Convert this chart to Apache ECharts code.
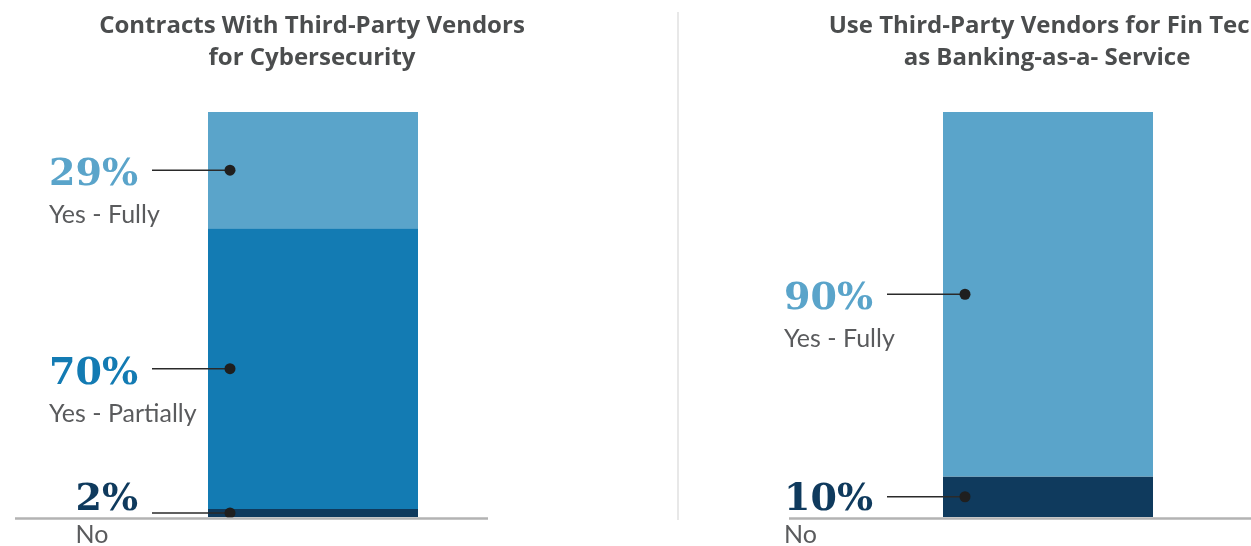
<!DOCTYPE html>
<html>
<head>
<meta charset="utf-8">
<script src="https://cdn.jsdelivr.net/npm/echarts@6/dist/echarts.min.js"></script>
<style>
  html, body { margin: 0; padding: 0; background: #ffffff; }
  #chart { width: 1251px; height: 546px; }
</style>
</head>
<body>
<div id="chart"></div>
<script>
// Survey answers, stacked bottom to top
const cyberTitle = 'Contracts With Third-Party Vendors\nfor Cybersecurity';
const cyberLabels = ['No', 'Yes - Partially', 'Yes - Fully'];
const cyberValues = [2, 70, 29];

const finTechTitle = 'Use Third-Party Vendors for Fin Tech\nas Banking-as-a- Service';
const finTechLabels = ['No', 'Yes - Fully'];
const finTechValues = [10, 90];

// Styling
const answerColors = {
  'No': '#0f3a5d',
  'Yes - Partially': '#137bb3',
  'Yes - Fully': '#5aa4ca'
};
const PCT_FONT = 'bold 38px "DejaVu Serif"';
const SUB_FONT = '400 25px Lato';
const TITLE_FONT = 'bold 24px "Open Sans"';
const TITLE_COLOR = '#4b4d4e';
const SUB_COLOR = '#5a5b5d';

// Panel layout: bar area and baseline extent
const panels = [
  { title: cyberTitle, labels: cyberLabels, values: cyberValues, left: 208, titleX: 312, ruleFrom: 15, ruleTo: 488 },
  { title: finTechTitle, labels: finTechLabels, values: finTechValues, left: 943, titleX: 1047, ruleFrom: 789, ruleTo: 1251 }
];
const BAR_W = 210, GRID_TOP = 112, GRID_BOTTOM = 29;

const measureCtx = document.createElement('canvas').getContext('2d');
function textWidth(str, font) {
  measureCtx.font = font;
  return measureCtx.measureText(str).width;
}

const grids = [], xAxes = [], yAxes = [], series = [];

panels.forEach((p, pi) => {
  const total = p.values.reduce((a, b) => a + b, 0);
  grids.push({ left: p.left, width: BAR_W, top: GRID_TOP, bottom: GRID_BOTTOM });
  xAxes.push({ type: 'category', gridIndex: pi, data: [''], show: false, boundaryGap: true });
  yAxes.push({ type: 'value', gridIndex: pi, min: 0, max: total, show: false });

  p.values.forEach((v, si) => {
    series.push({
      type: 'bar',
      name: p.labels[si],
      xAxisIndex: pi,
      yAxisIndex: pi,
      stack: 'panel' + pi,
      barWidth: '100%',
      data: [v],
      itemStyle: { color: answerColors[p.labels[si]] },
      silent: true
    });
  });

  // annotation items: [x, stack start, value, segment index]
  let acc = 0;
  const notes = p.values.map((v, si) => {
    const item = [0, acc, v, si];
    acc += v;
    return item;
  });

  series.push({
    type: 'custom',
    xAxisIndex: pi,
    yAxisIndex: pi,
    clip: false,
    z: 5,
    silent: true,
    encode: { x: 0, y: 1 },
    data: notes,
    renderItem: function (params, api) {
      const start = api.value(1);
      const val = api.value(2);
      const si = api.value(3);
      const cs = params.coordSys;
      const baseY = api.coord([0, 0])[1];
      const yBot = api.coord([0, start])[1];
      const yTop = api.coord([0, start + val])[1];
      const midY = (yBot + yTop) / 2;
      const barLeft = cs.x;
      const dotX = barLeft + 22;
      const pctRight = barLeft - 70;
      const pctText = p.values[si] + '%';
      const label = p.labels[si];
      const color = answerColors[label];
      const pctY = Math.min(midY + 5, baseY - 17);
      const subY = Math.min(pctY + 40, baseY + 18);
      const pctLeft = pctRight - textWidth(pctText, PCT_FONT);

      const children = [
        {
          type: 'line',
          shape: { x1: barLeft - 56, y1: midY, x2: dotX, y2: midY },
          style: { stroke: '#2a2a2a', lineWidth: 1.5 }
        },
        {
          type: 'circle',
          shape: { cx: dotX, cy: midY, r: 5.5 },
          style: { fill: '#1f1f1f' }
        },
        {
          type: 'text',
          x: pctRight,
          y: pctY,
          style: {
            text: pctText, font: PCT_FONT, fill: color,
            align: 'right', verticalAlign: 'middle'
          }
        },
        {
          type: 'text',
          x: pctLeft,
          y: subY,
          style: {
            text: label, font: SUB_FONT, fill: SUB_COLOR,
            align: 'left', verticalAlign: 'middle'
          }
        }
      ];
      if (params.dataIndex === 0) {
        children.unshift({
          type: 'line',
          z2: 10,
          shape: { x1: p.ruleFrom, y1: baseY + 1.5, x2: p.ruleTo, y2: baseY + 1.5 },
          style: { stroke: '#b3b3b3', lineWidth: 2.5 }
        });
      }
      return { type: 'group', children: children };
    }
  });
});

const graphics = panels.map(p => ({
  type: 'text',
  x: p.titleX,
  y: 10,
  style: {
    text: p.title,
    font: TITLE_FONT,
    fill: TITLE_COLOR,
    align: 'center',
    lineHeight: 32
  }
}));
graphics.push({
  type: 'line',
  shape: { x1: 678, y1: 12, x2: 678, y2: 520 },
  style: { stroke: '#e8e8e8', lineWidth: 2 }
});

const chart = echarts.init(document.getElementById('chart'), null, { renderer: 'canvas' });
chart.setOption({
  animation: false,
  backgroundColor: '#ffffff',
  grid: grids,
  xAxis: xAxes,
  yAxis: yAxes,
  graphic: graphics,
  series: series
});
</script>
</body>
</html>
